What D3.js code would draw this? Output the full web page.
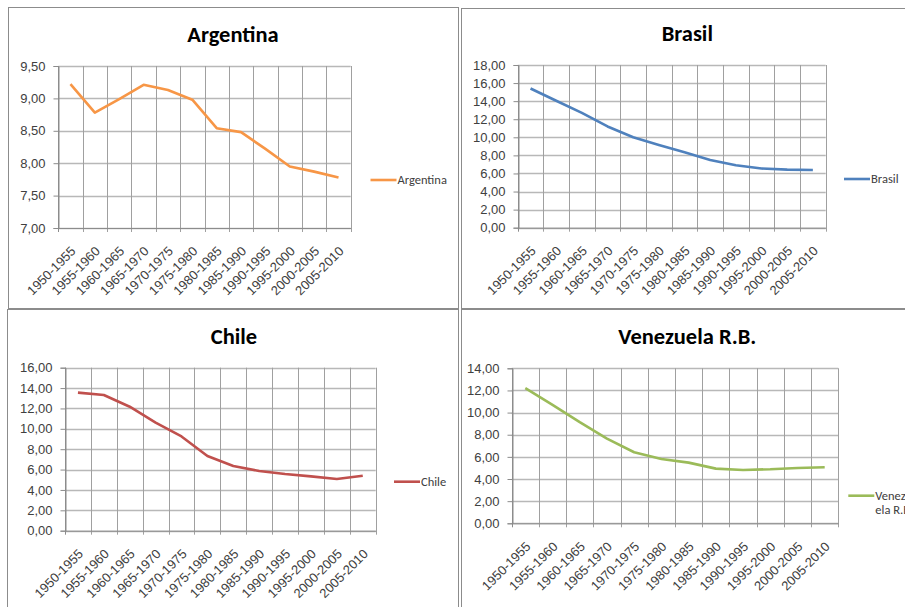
<!DOCTYPE html>
<html>
<head>
<meta charset="utf-8">
<script src="https://cdn.jsdelivr.net/npm/d3@7"></script>
<style>
  body { margin: 0; background: #fff; }
  svg { display: block; font-family: Calibri, Carlito, "Liberation Sans", Arial, sans-serif; }
  .tick text { fill: #404040; font-size: 13px; }
  .title { font-weight: bold; font-size: 22.5px; fill: #000; }
  .legend { font-size: 12.5px; fill: #404040; }
</style>
</head>
<body>
<script>
// data
var periods = ["1950-1955","1955-1960","1960-1965","1965-1970","1970-1975","1975-1980",
               "1980-1985","1985-1990","1990-1995","1995-2000","2000-2005","2005-2010"];
var argentina = [9.22, 8.78, 8.99, 9.21, 9.13, 8.98, 8.54, 8.48, 8.22, 7.95, 7.87, 7.78];
var brasil    = [15.40, 14.05, 12.70, 11.20, 10.00, 9.15, 8.35, 7.50, 6.90, 6.55, 6.43, 6.38];
var chile     = [13.55, 13.32, 12.17, 10.60, 9.25, 7.33, 6.35, 5.86, 5.56, 5.33, 5.07, 5.40];
var venezuela = [12.20, 10.69, 9.13, 7.65, 6.42, 5.81, 5.48, 4.94, 4.82, 4.88, 5.00, 5.06];

var fmt = d3.formatLocale({decimal: ",", thousands: ".", grouping: [3], currency: ["", ""]}).format(".2f");

var svg = d3.select("body").append("svg")
    .attr("width", 905)
    .attr("height", 607);

// panel frames
var frames = [[8, 7, 450, 301], [461, 8, 460, 300], [7, 309, 451, 310], [461, 309, 460, 310]];
svg.selectAll("rect.frame")
    .data(frames)
    .enter()
    .append("rect")
      .attr("class", "frame")
      .attr("x", function(d){ return d[0] + 0.5; })
      .attr("y", function(d){ return d[1] + 0.5; })
      .attr("width", function(d){ return d[2]; })
      .attr("height", function(d){ return d[3]; })
      .attr("fill", "none")
      .attr("stroke", "#8c8c8c");

var drawPanel = function(p) {
  var x = d3.scaleBand()
            .domain(periods)
            .range([p.left, p.right]);
  var y = d3.scaleLinear()
            .domain(p.domain)
            .range([p.bottom, p.top]);
  var yTicks = d3.range(p.domain[0], p.domain[1] + p.step / 2, p.step);

  var g = svg.append("g");

  // horizontal grid
  g.selectAll("line.hgrid")
      .data(yTicks)
      .enter()
      .append("line")
        .attr("x1", p.left)
        .attr("x2", p.right)
        .attr("y1", function(d){ return Math.round(y(d)) + 0.5; })
        .attr("y2", function(d){ return Math.round(y(d)) + 0.5; })
        .attr("stroke", "#b8b8b8")
        .attr("stroke-width", 1.3);

  // vertical grid at band edges
  var edges = periods.map(function(d){ return x(d); }).concat([p.right]);
  g.selectAll("line.vgrid")
      .data(edges)
      .enter()
      .append("line")
        .attr("x1", function(d){ return Math.round(d) + 0.5; })
        .attr("x2", function(d){ return Math.round(d) + 0.5; })
        .attr("y1", p.top)
        .attr("y2", p.bottom + 4)
        .attr("stroke", function(d, i){ return i == 0 ? "#8c8c8c" : "#a0a0a0"; });

  // y axis
  var yAxis = d3.axisLeft(y)
                .tickValues(yTicks)
                .tickSize(5)
                .tickPadding(8)
                .tickFormat(fmt);
  g.append("g")
      .attr("transform", "translate(" + (Math.round(p.left) + 0.5) + ",0)")
      .call(yAxis)
      .call(function(a){ a.select(".domain").attr("stroke", "#8c8c8c"); })
      .call(function(a){ a.selectAll(".tick line").attr("stroke", "#8c8c8c"); });

  // x axis labels
  var xAxis = d3.axisBottom(x).tickSize(0).tickPadding(0);
  g.append("g")
      .attr("transform", "translate(0," + p.bottom + ")")
      .call(xAxis)
      .call(function(a){ a.select(".domain").attr("stroke", "#8c8c8c"); })
      .selectAll(".tick text")
        .attr("text-anchor", "end")
        .attr("dy", null)
        .attr("y", 0)
        .attr("transform", "translate(6,24) rotate(-45)");

  // series line
  var line = d3.line()
               .x(function(d, i){ return x(periods[i]) + x.bandwidth() / 2; })
               .y(function(d){ return y(d); });
  g.append("path")
      .datum(p.values)
      .attr("d", line)
      .attr("fill", "none")
      .attr("stroke", p.color)
      .attr("stroke-width", 2.6)
      .attr("stroke-linejoin", "round");

  // title
  g.append("text")
      .attr("class", "title")
      .attr("x", p.titleX)
      .attr("y", p.titleY)
      .attr("text-anchor", "middle")
      .text(p.name);

  // legend
  g.append("line")
      .attr("x1", p.legX)
      .attr("x2", p.legX + 26)
      .attr("y1", p.legY)
      .attr("y2", p.legY)
      .attr("stroke", p.color)
      .attr("stroke-width", 2.6);
  var lt = g.append("text")
      .attr("class", "legend")
      .attr("x", p.legX + 27)
      .attr("y", p.legY + 4);
  p.legText.forEach(function(s, i){
    lt.append("tspan")
        .attr("x", p.legX + 27)
        .attr("dy", i == 0 ? 0 : 14)
        .text(s);
  });
};

drawPanel({name: "Argentina", values: argentina, color: "#f79646",
           left: 58.3, right: 350.7, top: 66, bottom: 228, domain: [7, 9.5], step: 0.5,
           titleX: 233, titleY: 42, legX: 370.5, legY: 180, legText: ["Argentina"]});
drawPanel({name: "Brasil", values: brasil, color: "#4f81bd",
           left: 517.7, right: 825.7, top: 65, bottom: 227.7, domain: [0, 18], step: 2,
           titleX: 687.3, titleY: 41, legX: 844, legY: 179, legText: ["Brasil"]});
drawPanel({name: "Chile", values: chile, color: "#c0504d",
           left: 65, right: 375.7, top: 367.7, bottom: 530.7, domain: [0, 16], step: 2,
           titleX: 234, titleY: 344, legX: 394, legY: 481.7, legText: ["Chile"]});
drawPanel({name: "Venezuela R.B.", values: venezuela, color: "#9bbb59",
           left: 511.7, right: 838.3, top: 368.3, bottom: 523.3, domain: [0, 14], step: 2,
           titleX: 687.3, titleY: 344, legX: 848.3, legY: 495.7, legText: ["Venezu", "ela R.B."]});
</script>
</body>
</html>
